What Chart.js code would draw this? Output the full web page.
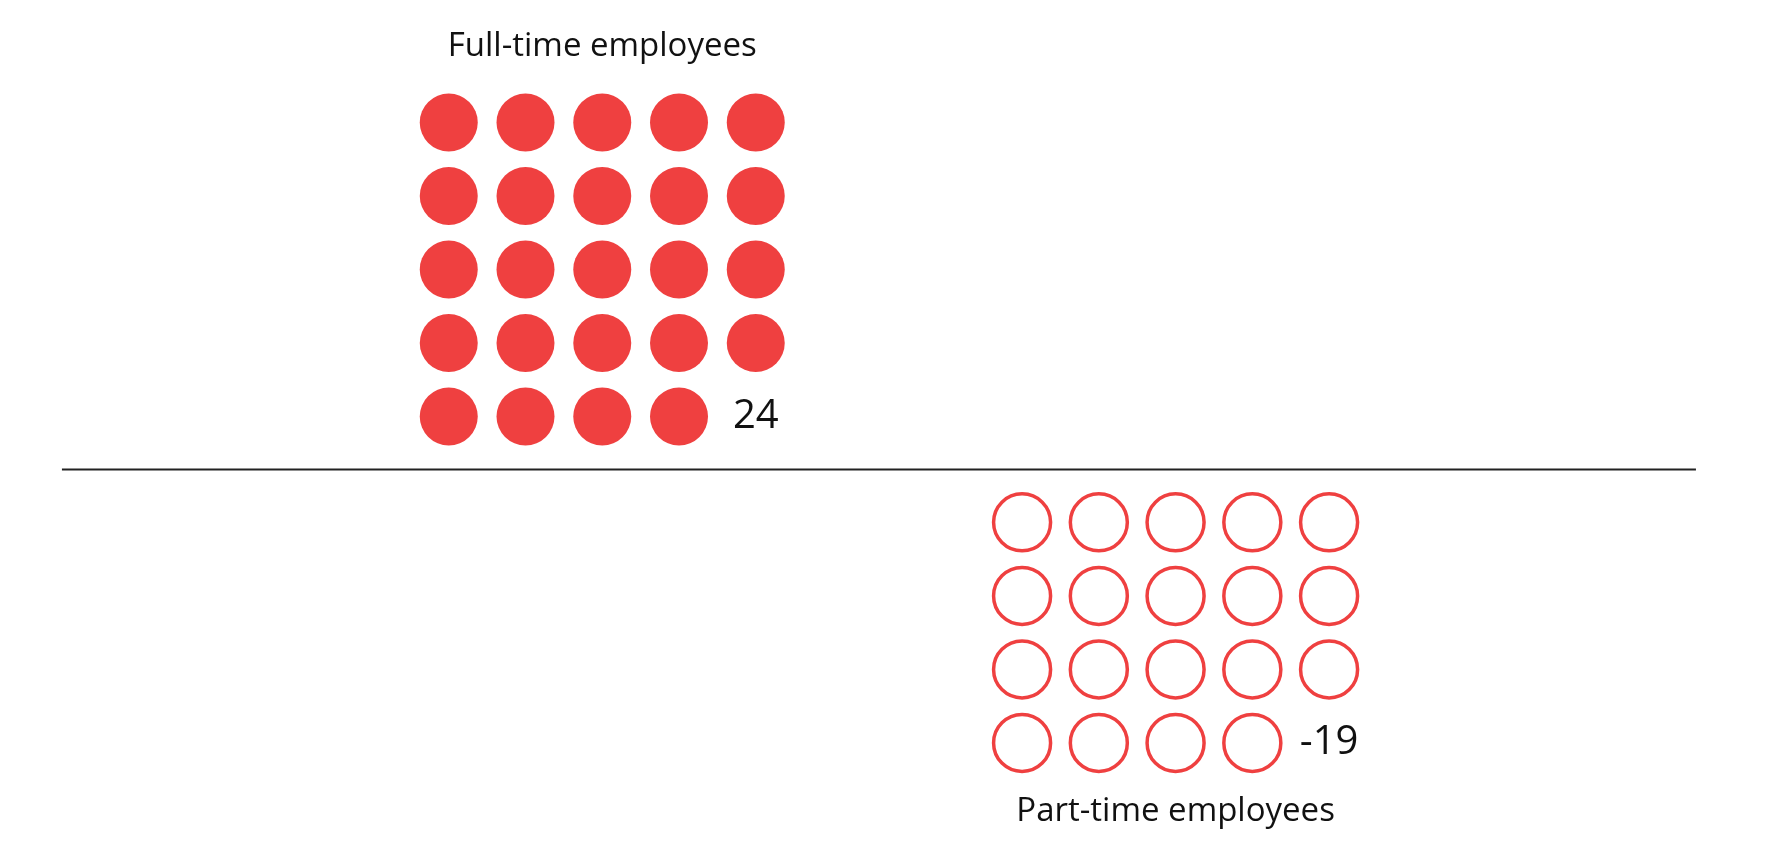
<!DOCTYPE html>
<html>
<head>
<meta charset="utf-8">
<script src="https://cdn.jsdelivr.net/npm/chart.js@4"></script>
<style>
  body { margin: 0; background: #fff; }
  #wrap { width: 1774px; height: 858px; }
</style>
</head>
<body>
<div id="wrap"><canvas id="dots"></canvas></div>
<script>
// values
const groups = ["Full-time employees", "Part-time employees"];
const counts = [24, -19];
const perRow = 5;
const colStart = [0, 7.47];   // column offset of each group, in grid units
const red = '#ef4040';

// lay one dot per unit out in rows of 5, filling from the top of the screen
function dotsFor(n, col0, positive) {
  const total = Math.abs(n);
  const rows = Math.ceil(total / perRow);
  const pts = [];
  for (let i = 0; i < total; i++) {
    const r = Math.floor(i / perRow), c = i % perRow;
    const y = positive ? 0.72 + (rows - 1 - r) : -0.72 - r;
    pts.push({ x: col0 + c, y: y });
  }
  const lr = Math.min(Math.floor(total / perRow), rows - 1);
  const labelPt = {
    x: col0 + (total % perRow === 0 ? perRow : total % perRow),
    y: positive ? 0.72 + (rows - 1 - lr) : -0.72 - lr
  };
  return { pts, labelPt, rows };
}

const full = dotsFor(counts[0], colStart[0], true);
const part = dotsFor(counts[1], colStart[1], false);

const labelPlugin = {
  id: 'labels',
  afterDatasetsDraw(chart) {
    const { ctx, scales: { x, y } } = chart;
    ctx.save();
    ctx.fillStyle = '#111';
    ctx.textAlign = 'center';
    ctx.textBaseline = 'middle';
    ctx.font = '40px "Open Sans"';
    ctx.fillText(String(counts[0]), x.getPixelForValue(full.labelPt.x), y.getPixelForValue(full.labelPt.y));
    ctx.fillText(String(counts[1]), x.getPixelForValue(part.labelPt.x), y.getPixelForValue(part.labelPt.y));
    ctx.font = '33px "Open Sans"';
    ctx.fillText(groups[0], x.getPixelForValue(colStart[0] + 2), y.getPixelForValue(0.72 + full.rows - 1) - 76);
    ctx.fillText(groups[1], x.getPixelForValue(colStart[1] + 2), y.getPixelForValue(-0.72 - (part.rows - 1)) + 69);
    ctx.restore();
  }
};

new Chart(document.getElementById('dots'), {
  type: 'scatter',
  data: {
    datasets: [{
      label: groups[0],
      data: full.pts,
      pointRadius: 29,
      pointHoverRadius: 29,
      backgroundColor: red,
      borderColor: red,
      borderWidth: 0
    }, {
      label: groups[1],
      data: part.pts,
      pointRadius: 28.5,
      pointHoverRadius: 28.5,
      backgroundColor: 'rgba(0,0,0,0)',
      borderColor: red,
      borderWidth: 3.5
    }, {
      type: 'line',
      label: 'axis',
      data: [{ x: -5.04, y: 0 }, { x: 16.25, y: 0 }],
      borderColor: '#222',
      borderWidth: 2,
      pointRadius: 0
    }]
  },
  options: {
    responsive: true,
    maintainAspectRatio: false,
    animation: false,
    layout: { padding: 0 },
    plugins: { legend: { display: false }, tooltip: { enabled: false } },
    scales: {
      x: { type: 'linear', display: false, min: -5.43, max: 16.85 },
      y: { type: 'linear', display: false, min: -4.85, max: 5.95 }
    }
  },
  plugins: [labelPlugin]
});
</script>
</body>
</html>
